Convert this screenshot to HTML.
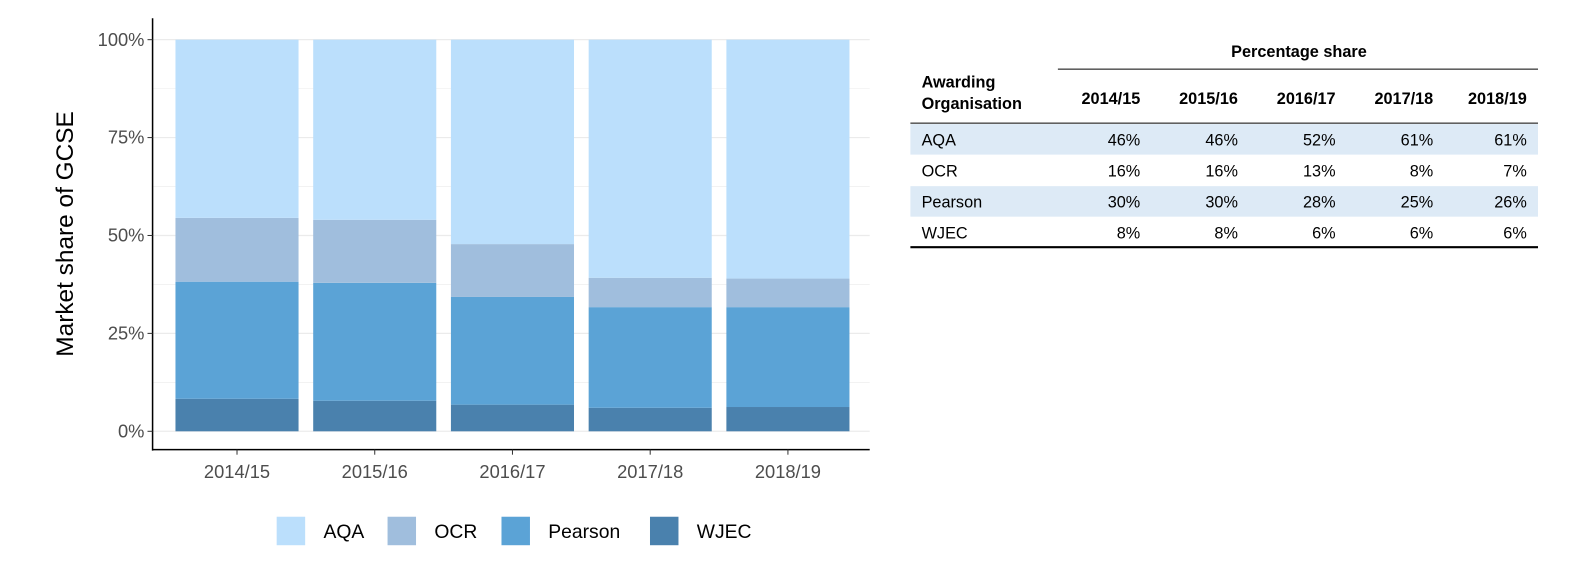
<!DOCTYPE html>
<html><head><meta charset="utf-8"><style>
html,body{margin:0;background:#fff;overflow:hidden;font-family:"Liberation Sans",Arial,sans-serif;}
svg{display:block;}
</style></head><body>
<svg width="1595" height="574" xmlns="http://www.w3.org/2000/svg" font-family="Liberation Sans, Arial, sans-serif">
<g transform="scale(1.0172)">
<g id="grid"></g>
<g id="bars"></g>
<g id="axes"></g>
<g id="legend"></g>
<g id="table"></g>
</g>
</svg>
<script>
const categories=["2014/15","2015/16","2016/17","2017/18","2018/19"];
const seriesNames=["WJEC","Pearson","OCR","AQA"];
const wjec=[8.3,7.8,6.8,6.0,6.2];
const pearson=[29.9,30.1,27.5,25.7,25.5];
const ocr=[16.3,16.1,13.5,7.5,7.3];
const aqa=[45.5,46.0,52.2,60.8,61.0];
const yTicks=[0,25,50,75,100];
const yTickLabels=["0%","25%","50%","75%","100%"];
const tableOrgs=["AQA","OCR","Pearson","WJEC"];
const tableAQA=["46%","46%","52%","61%","61%"];
const tableOCR=["16%","16%","13%","8%","7%"];
const tablePearson=["30%","30%","28%","25%","26%"];
const tableWJEC=["8%","8%","6%","6%","6%"];

const NS="http://www.w3.org/2000/svg";
function mk(tag,attrs,parent,text){const e=document.createElementNS(NS,tag);for(const k in attrs)e.setAttribute(k,attrs[k]);if(text!==undefined)e.textContent=text;parent.appendChild(e);return e;}
const colors={AQA:"#bbdffc",OCR:"#a0bedd",Pearson:"#5ba3d6",WJEC:"#4a81ad"};
const values={WJEC:wjec,Pearson:pearson,OCR:ocr,AQA:aqa};
const plotL=150,plotR=855,y0=424,y100=39;
const y=v=>y0-(y0-y100)*v/100;
const band=135.4;
const x=i=>233+band*i;
const bw=121;

const grid=document.getElementById('grid');
for(let v=0;v<=100;v+=12.5){
 const l=mk('line',{x1:plotL,x2:plotR,y1:y(v),y2:y(v),stroke:"#ebebeb","stroke-width":v%25===0?1.2:0.6},grid);
 
 
}
const bars=document.getElementById('bars');
categories.forEach((c,i)=>{
 let acc=0;
 seriesNames.forEach(s=>{
  const v=values[s][i];
  const r=mk('rect',{x:x(i)-bw/2,y:y(acc+v),width:bw,height:y(acc)-y(acc+v),fill:colors[s]},bars);
  
  
  acc+=v;
 });
});
const axes=document.getElementById('axes');
mk('line',{x1:plotL,x2:plotL,y1:18,y2:443,stroke:"#000","stroke-width":1.5},axes);
mk('line',{x1:plotL,x2:plotR,y1:442,y2:442,stroke:"#000","stroke-width":1.5},axes);
yTicks.forEach((t,i)=>{
 mk('line',{x1:plotL-5,x2:plotL,y1:y(t),y2:y(t),stroke:"#333"},axes);
 const tx=mk('text',{x:plotL-8,y:y(t)+6,"text-anchor":"end","font-size":18,fill:"#4d4d4d"},axes,yTickLabels[i]);
 
 
});
categories.forEach((c,i)=>{
 mk('line',{x1:x(i),x2:x(i),y1:442,y2:447,stroke:"#333"},axes);
 const tx=mk('text',{x:x(i),y:470,"text-anchor":"middle","font-size":18,fill:"#4d4d4d"},axes,c);
 
 
});
const yt=mk('text',{x:0,y:0,transform:"translate(72,230) rotate(-90)","text-anchor":"middle","font-size":24,fill:"#000"},axes,"Market share of GCSE");



const legend=document.getElementById('legend');
const legItems=[["AQA",272],["OCR",381],["Pearson",493],["WJEC",639]];
legItems.forEach(([n,lx])=>{
 const r=mk('rect',{x:lx,y:508,width:28,height:28,fill:colors[n]},legend);
 
 
 const t=mk('text',{x:lx+46,y:529,"font-size":19,fill:"#000"},legend,n);
 
 
});

const tb=document.getElementById('table');
const th=mk('text',{x:1277,y:56,"text-anchor":"middle","font-size":16,"font-weight":"bold"},tb,"Percentage share");


mk('line',{x1:1040,x2:1512,y1:68,y2:68,stroke:"#000"},tb);
mk('text',{x:906,y:86,"font-size":16,"font-weight":"bold"},tb,"Awarding");
mk('text',{x:906,y:107,"font-size":16,"font-weight":"bold"},tb,"Organisation");
const colR=[1121,1217,1313,1409,1501];
categories.forEach((c,i)=>{
 const t=mk('text',{x:colR[i],y:102,"text-anchor":"end","font-size":16,"font-weight":"bold"},tb,c);
 
 
});
mk('line',{x1:895,x2:1512,y1:121,y2:121,stroke:"#000"},tb);
const rows=[tableAQA,tableOCR,tablePearson,tableWJEC];
rows.forEach((row,r)=>{
 const top=122+r*30.5;
 if(r%2===0) mk('rect',{x:895,y:top,width:617,height:30,fill:"#ddeaf6"},tb);
 const n=mk('text',{x:906,y:top+21,"font-size":16},tb,tableOrgs[r]);
 
 
 row.forEach((v,i)=>{
  const t=mk('text',{x:colR[i],y:top+21,"text-anchor":"end","font-size":16},tb,v);
  
  
 });
});
mk('line',{x1:895,x2:1512,y1:243,y2:243,stroke:"#000","stroke-width":2},tb);
</script>
</body></html>
